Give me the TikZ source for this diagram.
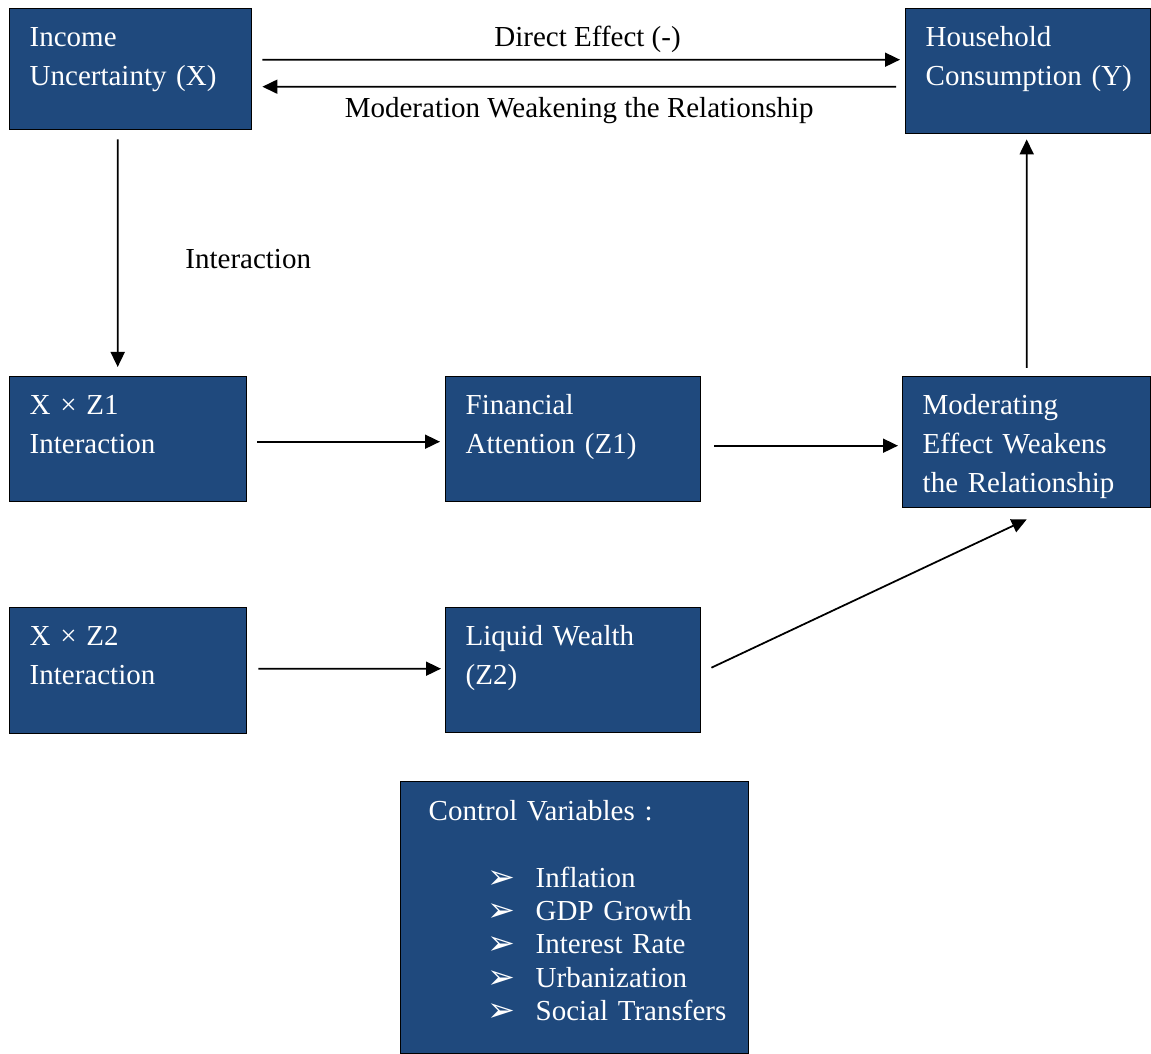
\documentclass[tikz,border=0pt]{standalone}
\usepackage{fontspec}
\setmainfont{Liberation Serif}
\newfontfamily\symfont{DejaVu Sans}
\usetikzlibrary{positioning,arrows.meta}
\definecolor{boxblue}{HTML}{1F497D}
\newcommand{\bul}{{\symfont\fontsize{19}{19}\selectfont ➢}}
\newcommand{\ctrlitem}[1]{\mbox{\hspace*{1.18cm}\makebox[0.96cm][l]{\raisebox{-0.02cm}{\bul}}#1}}

\begin{document}
\begin{tikzpicture}

% definitions
\tikzstyle{block} = [rectangle, anchor=north west, draw=black, line width=0.8pt, fill=boxblue, text=white, align=left, inner xsep=0.4cm, inner ysep=0pt, text height=0.75cm, font=\fontsize{16.5}{22.2}\selectfont]


\tikzstyle{arrow} = [-{Triangle[length=0.3cm,width=0.28cm]}, line width=1pt]
\tikzstyle{lbl} = [font=\fontsize{16.5}{20}\selectfont]

\useasboundingbox (0,0) rectangle (23.02,-21.08);

% the graph
\node (inc) [block, text width=4.04cm, text depth=1.67cm] at (0.18,-0.16) {Income\\Uncertainty (X)};
\node (hh) [block, text width=4.1cm, text depth=1.75cm] at (18.1,-0.16) {Household\\Consumption~(Y)};
\node (xz1) [block, text width=3.94cm, text depth=1.75cm] at (0.18,-7.52) {X × Z1\\Interaction};
\node (fin) [block, text width=4.3cm, text depth=1.75cm] at (8.9,-7.52) {Financial\\Attention (Z1)};
\node (mod) [block, text width=4.16cm, text depth=1.87cm] at (18.04,-7.52) {Moderating\\Effect Weakens\\the Relationship};
\node (xz2) [block, text width=3.94cm, text depth=1.77cm] at (0.18,-12.14) {X × Z2\\Interaction};
\node (liq) [block, text width=4.3cm, text depth=1.75cm] at (8.9,-12.14) {Liquid Wealth\\(Z2)};
\node (ctrl) [block, inner xsep=0.56cm, text width=5.84cm, text height=0.78cm, text depth=4.66cm, font=\fontsize{16.5}{19}\selectfont] at (8.0,-15.62) {Control Variables :\\[0.66cm]\ctrlitem{Inflation}\\\ctrlitem{GDP Growth}\\\ctrlitem{Interest Rate}\\\ctrlitem{Urbanization}\\\ctrlitem{Social Transfers}};


\draw [arrow] ([xshift=0.2cm, yshift=0.19cm]inc.east) -- node [lbl, above=0pt, pos=0.51] {Direct Effect (-)} ([xshift=-0.1cm, yshift=0.23cm]hh.west);

\draw [arrow] ([xshift=-0.18cm, yshift=-0.31cm]hh.west) -- node [lbl, below=2pt] {Moderation Weakening the Relationship} ([xshift=0.2cm, yshift=-0.35cm]inc.east);

\draw [arrow] ([xshift=-0.26cm, yshift=-0.18cm]inc.south) -- node [lbl, right=1.22cm, yshift=-0.12cm] {Interaction} ([xshift=-0.21cm, yshift=0.18cm]xz1.north);

\draw [arrow] ([xshift=0.2cm, yshift=-0.05cm]xz1.east) -- ([xshift=-0.1cm, yshift=-0.05cm]fin.west);
\draw [arrow] ([xshift=0.26cm, yshift=-0.13cm]fin.east) -- ([xshift=-0.08cm, yshift=-0.07cm]mod.west);
\draw [arrow] ([yshift=0.16cm]mod.north) -- ([xshift=-0.03cm, yshift=-0.1cm]hh.south);

\draw [arrow] ([xshift=0.22cm, yshift=0.04cm]xz2.east) -- ([xshift=-0.08cm, yshift=0.03cm]liq.west);
\draw [arrow] ([xshift=0.2cm, yshift=0.05cm]liq.east) -- ([yshift=-0.22cm]mod.south);

\end{tikzpicture}
\end{document}
